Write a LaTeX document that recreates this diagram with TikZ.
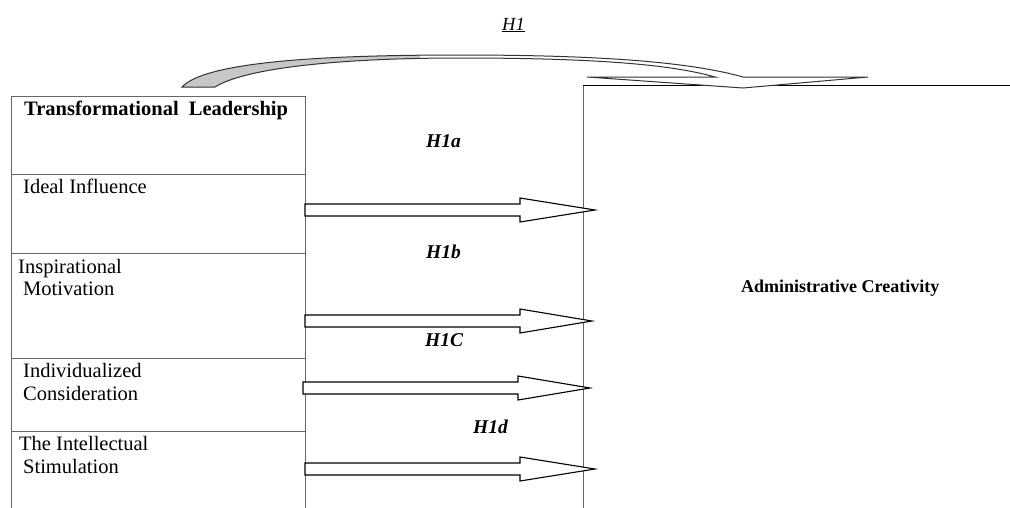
\documentclass[tikz,border=0pt]{standalone}
\usepackage{fontspec}
\setmainfont{Liberation Serif}
\begin{document}
\begin{tikzpicture}[x=1pt,y=-1pt,
  txt/.style={anchor=base west,inner sep=0pt,font=\fontsize{20.5}{24}\selectfont},
  btxt/.style={txt,font=\fontsize{20.5}{24}\selectfont\bfseries},
  hyp/.style={txt,font=\fontsize{19.5}{23}\selectfont\bfseries\itshape},
  boxline/.style={draw=black!60,line width=1pt},
  blockarrow/.style={draw=black,line width=1.1pt,fill=white,line join=miter}]
\useasboundingbox (0,0) rectangle (1010,507);
% left box
\coordinate (LTL) at (11,96);
\coordinate (LTR) at (305,96);
\draw[boxline] (11,510) -- (LTL) -- (LTR) -- (305,510);
\foreach \y in {174,253,358,431} \draw[boxline] (11,\y) -- (305,\y);
% right box
\coordinate (RTL) at (583,85);
\draw[boxline] (583,510) -- (RTL);
\draw[black,line width=1pt] (RTL) -- (1012,85);
% texts
\node[btxt] (tl) at (24,115) {Transformational\ \ Leadership};
\node[txt] (d1) at (23,193) {Ideal Influence};
\node[txt] (d2a) at (18,273) {Inspirational};
\node[txt] (d2b) at (23,295) {Motivation};
\node[txt] (d3a) at (23,377) {Individualized};
\node[txt] (d3b) at (23,400) {Consideration};
\node[txt] (d4a) at (19,450) {The Intellectual};
\node[txt] (d4b) at (23,473) {Stimulation};
\node[btxt,font=\fontsize{18}{22}\selectfont\bfseries] (ac) at (741,292) {Administrative Creativity};
\node[hyp] (h1a) at (426,147) {H1a};
\node[hyp] (h1b) at (426,258) {H1b};
\node[hyp] (h1c) at (425,346) {H1C};
\node[hyp] (h1d) at (473,433) {H1d};
\node[txt,font=\fontsize{18.5}{22}\selectfont\itshape] (h1) at (502,30) {\underline{H1}};
% block arrows
\draw[blockarrow] (305,204) -- (520,204) -- (520,198) -- (595,210) -- (520,222) -- (520,216) -- (305,216) -- cycle;
\draw[blockarrow] (305,315) -- (520,315) -- (520,309) -- (592,321) -- (520,333) -- (520,327) -- (305,327) -- cycle;
\draw[blockarrow] (303,382) -- (518,382) -- (518,376) -- (590,388) -- (518,400) -- (518,394) -- (303,394) -- cycle;
\draw[blockarrow] (305,463) -- (520,463) -- (520,457) -- (595,469) -- (520,481) -- (520,475) -- (305,475) -- cycle;
% curved arrow H1
\def\curvedarrow{(587,77) -- (715,77) .. controls (670,64) and (590,58) .. (460,58)
   .. controls (340,58) and (245,68) .. (215,87) -- (182,87)
   .. controls (205,62) and (320,55) .. (460,55)
   .. controls (600,55) and (690,62) .. (743,77) -- (868,77) -- (743,88) -- cycle}
\fill[white] \curvedarrow;
\begin{scope}
  \clip (0,0) rectangle (420,100);
  \fill[black!22] \curvedarrow;
\end{scope}
\draw[black!80,line width=1pt,line join=miter] \curvedarrow;
\end{tikzpicture}
\end{document}
